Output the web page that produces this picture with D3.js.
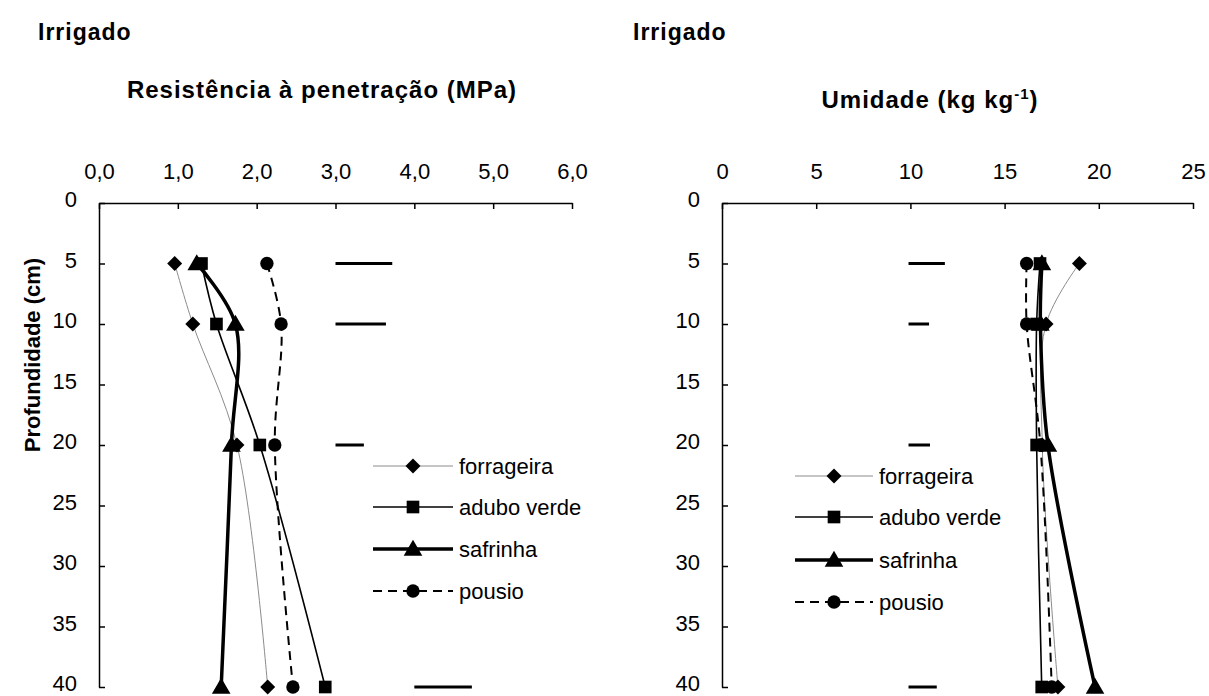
<!DOCTYPE html>
<html>
<head>
<meta charset="utf-8">
<script src="https://cdn.jsdelivr.net/npm/d3@7"></script>
<style>
  html, body { margin: 0; padding: 0; background: #fff; }
  svg { display: block; font-family: "Liberation Sans", Arial, sans-serif; }
</style>
</head>
<body>
<svg id="chart" width="1209" height="696"></svg>
<script>
// ---------- DATA ----------
const depths = [5, 10, 20, 40];
const depthTicks = [0, 5, 10, 15, 20, 25, 30, 35, 40];

// Resistência à penetração (MPa)
const rpTicks = [0, 1, 2, 3, 4, 5, 6];
const rpForrageira = [0.96, 1.19, 1.75, 2.14];
const rpAduboVerde = [1.30, 1.49, 2.04, 2.87];
const rpSafrinha   = [1.24, 1.73, 1.68, 1.55];
const rpPousio     = [2.13, 2.31, 2.23, 2.46];
const rpLsdStart   = [3.0, 3.0, 3.0, 4.0];
const rpLsdEnd     = [3.72, 3.64, 3.36, 4.73];

// Umidade (kg kg-1)
const umTicks = [0, 5, 10, 15, 20, 25];
const umForrageira = [18.97, 17.2, 17.0, 17.83];
const umAduboVerde = [16.88, 16.7, 16.7, 16.97];
const umSafrinha   = [16.98, 16.9, 17.3, 19.8];
const umPousio     = [16.17, 16.17, 16.9, 17.5];
const umLsdStart   = [9.9, 9.9, 9.9, 9.9];
const umLsdEnd     = [11.83, 10.99, 11.04, 11.4];

const seriesNames = ["forrageira", "adubo verde", "safrinha", "pousio"];

// ---------- STYLES ----------
const styles = {
  "forrageira":  { stroke: "#8c8c8c", width: 1,   dash: null,  marker: "diamond" },
  "adubo verde": { stroke: "#000",    width: 1.6, dash: null,  marker: "square" },
  "safrinha":    { stroke: "#000",    width: 3.5, dash: null,  marker: "triangle" },
  "pousio":      { stroke: "#000",    width: 2,   dash: "9,6", marker: "circle" }
};
const symbolTypes = {
  diamond: d3.symbolSquare,
  square: d3.symbolSquare,
  triangle: d3.symbolTriangle,
  circle: d3.symbolCircle
};
const symbolSizes = { diamond: 112, square: 160, triangle: 150, circle: 140 };

const svg = d3.select("#chart");

function drawMarker(g, type, cx, cy) {
  const rot = type === "diamond" ? " rotate(45)" : "";
  g.append("path")
    .attr("d", d3.symbol().type(symbolTypes[type]).size(symbolSizes[type])())
    .attr("transform", `translate(${cx},${cy + (type === "triangle" ? 1.5 : 0)})${rot}`)
    .attr("fill", "#000");
}

function panel(opts) {
  const g = svg.append("g");
  const x = d3.scaleLinear().domain(opts.xDomain).range([opts.left, opts.right]);
  const y = d3.scaleLinear().domain([0, 40]).range([203, 687]);

  // titles
  g.append("text").attr("x", opts.irrX).attr("y", 40)
    .attr("font-size", 23).attr("font-weight", "bold").attr("letter-spacing", 1)
    .text("Irrigado");
  const t = g.append("text").attr("x", opts.titleX).attr("y", opts.titleY)
    .attr("text-anchor", "middle").attr("font-size", 24).attr("font-weight", "bold")
    .attr("letter-spacing", 1);
  opts.title(t);

  // axes
  const xAxis = d3.axisTop(x).tickValues(opts.xTicks).tickFormat(opts.fmt)
    .tickSizeInner(-6).tickSizeOuter(0).tickPadding(24);
  const gx = g.append("g").attr("transform", `translate(0,${y(0)})`).call(xAxis);
  const yAxis = d3.axisLeft(y).tickValues(depthTicks).tickFormat(d3.format("d"))
    .tickSizeInner(-6).tickSizeOuter(0).tickPadding(22);
  const gy = g.append("g").attr("transform", `translate(${opts.left},0)`).call(yAxis);
  [gx, gy].forEach(a => {
    a.select(".domain").attr("stroke", "#000").attr("stroke-width", 1.5);
    a.selectAll(".tick line").attr("stroke", "#000").attr("stroke-width", 1.5);
    a.selectAll(".tick text").attr("font-size", 22).attr("fill", "#000")
      .attr("font-family", "Liberation Sans, Arial, sans-serif");
  });
  gy.selectAll(".tick text").attr("dy", "0.18em");

  // LSD bars
  depths.forEach((d, i) => {
    g.append("line")
      .attr("x1", x(opts.lsdStart[i])).attr("x2", x(opts.lsdEnd[i]))
      .attr("y1", y(d)).attr("y2", y(d))
      .attr("stroke", "#000").attr("stroke-width", 3);
  });

  // lines
  const line = d3.line().x(d => x(d.v)).y(d => y(d.d)).curve(d3.curveCatmullRom.alpha(0.5));
  const order = ["forrageira", "adubo verde", "pousio", "safrinha"];
  order.forEach(name => {
    const vals = opts.series[name];
    const st = styles[name];
    const pts = depths.map((d, i) => ({ d, v: vals[i] }));
    g.append("path").attr("d", line(pts)).attr("fill", "none")
      .attr("stroke", st.stroke).attr("stroke-width", st.width)
      .attr("stroke-dasharray", st.dash);
  });
  order.forEach(name => {
    const vals = opts.series[name];
    depths.forEach((d, i) => drawMarker(g, styles[name].marker, x(vals[i]), y(d)));
  });

  // legend
  seriesNames.forEach((name, i) => {
    const st = styles[name];
    const ly = opts.legY[i];
    g.append("line").attr("x1", opts.legX0).attr("x2", opts.legX1)
      .attr("y1", ly).attr("y2", ly)
      .attr("stroke", st.stroke).attr("stroke-width", st.width)
      .attr("stroke-dasharray", st.dash);
    drawMarker(g, st.marker, (opts.legX0 + opts.legX1) / 2, ly);
    g.append("text").attr("x", opts.legX1 + 6).attr("y", ly + 8)
      .attr("font-size", 22).text(name);
  });
}

panel({
  xDomain: [0, 6], left: 99, right: 572, xTicks: rpTicks,
  fmt: d => d.toFixed(1).replace(".", ","),
  irrX: 38, titleX: 322, titleY: 98,
  title: t => t.text("Resistência à penetração (MPa)"),
  lsdStart: rpLsdStart, lsdEnd: rpLsdEnd,
  series: { "forrageira": rpForrageira, "adubo verde": rpAduboVerde, "safrinha": rpSafrinha, "pousio": rpPousio },
  legX0: 373, legX1: 453, legY: [466, 507, 549, 591]
});

panel({
  xDomain: [0, 25], left: 722, right: 1193, xTicks: umTicks,
  fmt: d3.format("d"),
  irrX: 633, titleX: 930, titleY: 108,
  title: t => {
    t.append("tspan").text("Umidade (kg kg");
    t.append("tspan").attr("font-size", 15).attr("dy", -9).text("-1");
    t.append("tspan").attr("dy", 9).text(")");
  },
  lsdStart: umLsdStart, lsdEnd: umLsdEnd,
  series: { "forrageira": umForrageira, "adubo verde": umAduboVerde, "safrinha": umSafrinha, "pousio": umPousio },
  legX0: 795, legX1: 873, legY: [476, 517, 560, 602]
});

// y axis title
svg.append("text")
  .attr("transform", "translate(40,355) rotate(-90)")
  .attr("text-anchor", "middle").attr("font-size", 22).attr("font-weight", "bold")
  .text("Profundidade (cm)");
</script>
</body>
</html>
